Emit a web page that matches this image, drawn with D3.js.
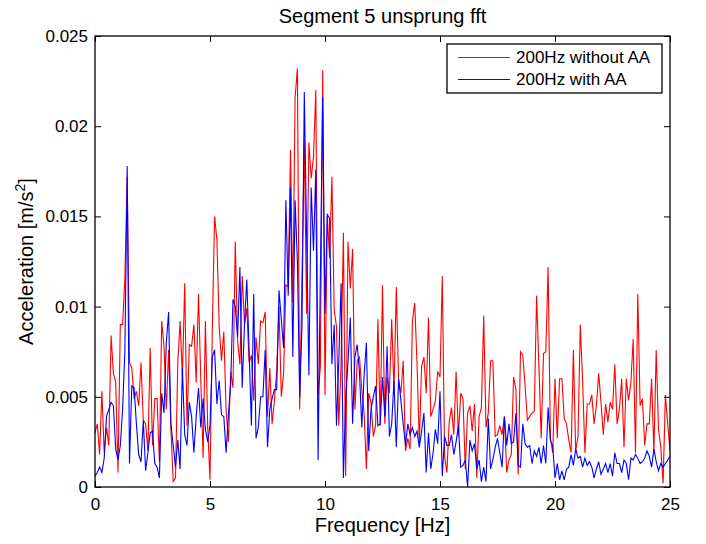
<!DOCTYPE html>
<html>
<head>
<meta charset="utf-8">
<script src="https://cdn.jsdelivr.net/npm/d3@7"></script>
<style>
  body { margin: 0; background: #fff; }
  svg text { font-family: "Liberation Sans", Arial, Helvetica, sans-serif; fill: #000; }
</style>
</head>
<body>
<div id="chart"></div>
<script>
// Segment 5 unsprung fft - acceleration spectrum, two sampling setups

// FFT bin spacing in Hz
const freqStep = 0.1;

// Amplitudes in units of 1e-3 m/s^2, one per bin from 0 to 25 Hz
const withoutAA = [
  3.0, 3.5, 1.8, 5.3, 1.9, 3.3, 2.3, 8.4, 6.3, 5.8,
  0.8, 9.0, 9.0, 11.6, 17.2, 6.9, 6.6, 4.9, 5.3, 4.5,
  6.9, 3.7, 3.5, 2.0, 7.7, 2.3, 4.9, 4.9, 1.4, 9.2,
  7.8, 4.3, 7.6, 3.2, 0.3, 0.5, 6.9, 9.2, 6.1, 11.3,
  3.4, 7.9, 7.8, 9.0, 5.8, 10.7, 5.9, 1.6, 9.2, 3.3,
  0.4, 8.7, 15.0, 13.7, 8.9, 7.0, 8.6, 4.3, 2.5, 6.4,
  5.5, 13.6, 8.1, 6.8, 11.7, 9.0, 9.9, 6.9, 7.3, 4.8,
  8.3, 6.8, 9.2, 9.1, 9.7, 3.9, 6.6, 3.5, 4.8, 6.4,
  10.0, 5.0, 6.3, 11.2, 11.1, 18.7, 10.2, 21.6, 23.2, 4.3,
  11.7, 19.2, 9.6, 19.1, 17.1, 18.3, 22.0, 5.1, 6.7, 23.1,
  5.1, 15.0, 12.7, 17.2, 9.8, 8.9, 3.4, 6.9, 14.1, 0.6,
  13.6, 11.0, 13.2, 4.3, 7.0, 7.2, 5.4, 4.1, 1.0, 5.2,
  4.7, 2.8, 3.4, 9.3, 3.4, 11.2, 3.5, 6.1, 5.2, 9.3,
  5.3, 11.1, 5.9, 5.2, 7.0, 2.0, 2.7, 2.1, 9.2, 10.2,
  6.9, 2.4, 6.7, 7.2, 5.2, 9.4, 3.9, 4.3, 4.8, 6.4,
  6.1, 11.7, 1.7, 0.8, 3.6, 4.4, 2.9, 6.4, 2.8, 5.2,
  4.9, 1.0, 4.1, 4.5, 3.1, 4.6, 0.5, 3.9, 4.4, 9.5,
  3.3, 4.1, 7.0, 7.0, 2.8, 2.9, 3.4, 2.9, 3.9, 0.8,
  1.5, 1.8, 6.1, 5.4, 0.7, 7.5, 7.3, 5.6, 3.7, 3.9,
  4.1, 4.2, 10.6, 6.7, 2.7, 7.4, 7.5, 12.2, 2.7, 1.9,
  6.0, 2.7, 6.0, 6.0, 3.8, 3.5, 2.6, 1.9, 7.6, 2.0,
  2.8, 9.0, 5.9, 1.9, 4.6, 4.6, 5.1, 3.5, 4.5, 6.3,
  4.7, 2.9, 4.6, 3.6, 4.7, 4.3, 6.8, 3.5, 4.3, 6.0,
  2.2, 6.0, 4.8, 5.8, 8.2, 1.9, 10.7, 4.5, 4.9, 2.3,
  3.5, 3.5, 6.0, 1.9, 7.6, 3.2, 2.2, 0.2, 5.1, 3.5,
  2.0
];

const withAA = [
  0.6, 0.8, 1.1, 0.8, 1.6, 3.9, 4.3, 4.7, 4.5, 2.1,
  1.5, 2.3, 4.3, 7.6, 17.8, 1.3, 5.6, 5.5, 3.5, 1.8,
  1.4, 3.7, 0.9, 1.9, 3.0, 3.1, 1.3, 1.1, 0.5, 5.2,
  4.1, 8.0, 9.7, 3.5, 2.3, 1.1, 2.6, 1.0, 6.6, 2.9,
  2.3, 4.7, 3.9, 1.9, 3.9, 5.5, 3.3, 4.9, 3.2, 2.5,
  3.4, 7.2, 7.6, 4.6, 5.9, 4.0, 3.9, 1.9, 4.0, 5.7,
  10.4, 10.0, 8.3, 12.2, 5.5, 9.0, 11.5, 7.6, 3.4, 10.7,
  2.7, 3.3, 5.0, 5.0, 7.6, 2.2, 4.3, 4.9, 5.4, 5.4,
  10.9, 9.3, 7.7, 15.9, 10.6, 16.6, 7.2, 15.9, 12.5, 5.0,
  9.0, 21.9, 14.0, 6.2, 16.6, 13.1, 17.6, 1.5, 12.0, 21.6,
  9.6, 15.1, 14.9, 6.8, 9.0, 3.4, 7.0, 11.3, 0.5, 5.0,
  6.9, 9.4, 3.5, 7.2, 7.9, 6.3, 3.3, 6.2, 8.0, 2.0,
  4.3, 5.0, 5.6, 3.4, 3.5, 6.1, 3.9, 7.8, 2.8, 3.5,
  5.9, 2.2, 6.0, 4.8, 3.5, 2.3, 3.5, 2.9, 3.3, 2.8,
  3.1, 2.2, 3.1, 4.1, 0.8, 3.0, 1.0, 1.9, 3.2, 2.4,
  5.3, 0.6, 2.8, 2.3, 2.3, 2.9, 1.8, 2.5, 3.4, 1.1,
  1.2, 1.5, 0.0, 2.6, 2.0, 2.4, 1.0, 1.5, 0.3, 1.1,
  0.3, 3.8, 1.0, 1.5, 2.2, 2.7, 1.9, 1.1, 3.9, 2.3,
  3.5, 2.4, 2.5, 4.1, 1.2, 1.1, 3.5, 2.4, 2.2, 2.3,
  1.3, 2.0, 1.7, 2.2, 1.3, 2.3, 1.3, 4.4, 2.6, 2.3,
  0.5, 1.3, 0.4, 0.9, 0.4, 1.0, 1.1, 1.8, 1.2, 2.1,
  1.6, 1.7, 1.1, 1.6, 1.2, 1.4, 1.1, 0.5, 1.0, 1.4,
  0.7, 1.0, 1.3, 0.8, 1.3, 0.6, 1.9, 1.3, 1.3, 0.8,
  1.5, 1.3, 0.4, 1.6, 1.5, 1.8, 1.6, 1.3, 1.4, 1.6,
  2.0, 1.7, 1.1, 2.1, 1.4, 0.9, 1.3, 1.1, 1.3, 1.5,
  1.7
];

const xTicks = [0, 5, 10, 15, 20, 25];
const yTicks = [0, 0.005, 0.01, 0.015, 0.02, 0.025];
const yTickLabels = ['0', '0.005', '0.01', '0.015', '0.02', '0.025'];

const seriesNames = ['200Hz without AA', '200Hz with AA'];
const seriesColors = ['#ff0000', '#0000ff'];

const width = 706, height = 544;
const margin = { top: 36, right: 36, bottom: 57, left: 95 };
const plotW = width - margin.left - margin.right;
const plotH = height - margin.top - margin.bottom;

const svg = d3.select('#chart').append('svg')
    .attr('width', width)
    .attr('height', height);

const g = svg.append('g')
    .attr('transform', `translate(${margin.left},${margin.top})`);

const x = d3.scaleLinear().domain([0, 25]).range([0, plotW]);
const y = d3.scaleLinear().domain([0, 0.025]).range([plotH, 0]);

// clip so lines stay in the box
svg.append('defs').append('clipPath')
    .attr('id', 'plot-clip')
    .append('rect')
    .attr('width', plotW)
    .attr('height', plotH);

const line = d3.line()
    .x((d, i) => x(i * freqStep))
    .y(d => y(d / 1000));

const lines = g.append('g').attr('clip-path', 'url(#plot-clip)');
[withoutAA, withAA].forEach((values, k) => {
    lines.append('path')
        .datum(values)
        .attr('fill', 'none')
        .attr('stroke', seriesColors[k])
        .attr('stroke-width', 1.1)
        .attr('d', line);
});

// axes, MATLAB style: ticks inside, mirrored on top/right
const tickLen = 6;
const yTickFmt = d => yTickLabels[yTicks.indexOf(d)];

g.append('g')
    .attr('transform', `translate(0,${plotH})`)
    .call(d3.axisBottom(x).tickValues(xTicks).tickSize(-tickLen).tickPadding(tickLen + 5))
    .call(a => a.select('.domain').remove())
    .selectAll('text').style('font-size', '17px');

g.append('g')
    .call(d3.axisTop(x).tickValues(xTicks).tickSize(-tickLen).tickFormat(''))
    .call(a => a.select('.domain').remove());

g.append('g')
    .call(d3.axisLeft(y).tickValues(yTicks).tickSize(-tickLen).tickPadding(tickLen + 1).tickFormat(yTickFmt))
    .call(a => a.select('.domain').remove())
    .selectAll('text').style('font-size', '17px');

g.append('g')
    .attr('transform', `translate(${plotW},0)`)
    .call(d3.axisRight(y).tickValues(yTicks).tickSize(-tickLen).tickFormat(''))
    .call(a => a.select('.domain').remove());

g.selectAll('.tick line').attr('stroke', '#000').attr('stroke-width', 1);

g.append('rect')
    .attr('width', plotW)
    .attr('height', plotH)
    .attr('fill', 'none')
    .attr('stroke', '#000')
    .attr('stroke-width', 1.3);

// title and axis labels
svg.append('text')
    .attr('x', margin.left + plotW / 2)
    .attr('y', 23)
    .attr('text-anchor', 'middle')
    .style('font-size', '20px')
    .text('Segment 5 unsprung fft');

svg.append('text')
    .attr('x', margin.left + plotW / 2)
    .attr('y', 532)
    .attr('text-anchor', 'middle')
    .style('font-size', '20px')
    .text('Frequency [Hz]');

const yLabel = svg.append('text')
    .attr('transform', `translate(33,${margin.top + plotH / 2}) rotate(-90)`)
    .attr('text-anchor', 'middle')
    .style('font-size', '20px');
yLabel.append('tspan').text('Acceleration [m/s');
yLabel.append('tspan').attr('dy', -8).style('font-size', '14px').text('2');
yLabel.append('tspan').attr('dy', 8).text(']');

// legend
const legend = svg.append('g').attr('transform', 'translate(447,44)');
legend.append('rect')
    .attr('width', 215)
    .attr('height', 49)
    .attr('fill', '#fff')
    .attr('stroke', '#000')
    .attr('stroke-width', 1.3);

seriesNames.forEach((name, k) => {
    const ly = 13.5 + k * 22;
    legend.append('line')
        .attr('x1', 11).attr('x2', 63)
        .attr('y1', ly).attr('y2', ly)
        .attr('stroke', seriesColors[k])
        .attr('stroke-width', 1);
    legend.append('text')
        .attr('x', 69)
        .attr('y', ly)
        .attr('dy', '0.35em')
        .style('font-size', '17px')
        .text(name);
});
</script>
</body>
</html>
